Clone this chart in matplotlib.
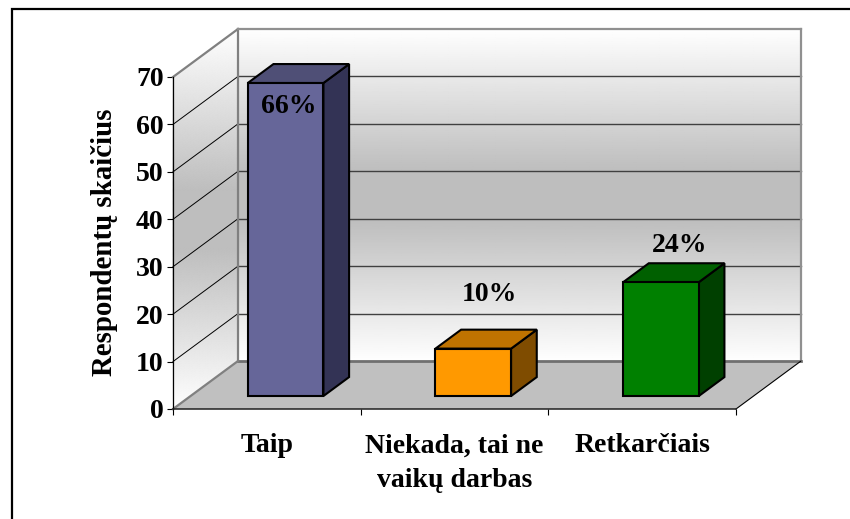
#3D bar chart drawn on a normal 2D axes, depth is a pixel offset
import matplotlib
matplotlib.use('Agg')
import matplotlib.pyplot as plt
from matplotlib.patches import Polygon
from matplotlib.transforms import IdentityTransform
from matplotlib.colors import LinearSegmentedColormap
import numpy as np

categories = ['Taip', 'Niekada, tai ne\nvaikų darbas', 'Retkarčiais']
values = [66, 10, 24]
percent_labels = ['66%', '10%', '24%']
yticks = [0, 10, 20, 30, 40, 50, 60, 70]

front_colors = ['#666699', '#FF9900', '#008000']
top_colors = ['#4F4F76', '#BF7300', '#006000']
side_colors = ['#333355', '#7F4C00', '#004000']
label_shift = [(3, -23), (16, 54), (19, 37)]

plt.rcParams['font.family'] = ['Liberation Serif', 'DejaVu Serif']
plt.rcParams['font.weight'] = 'bold'

W, H = 850, 519
DX, DY = 65, 48
FS = 20
fig = plt.figure(figsize=(W / 100, H / 100), dpi=100, facecolor='white')
ax = fig.add_axes([173 / W, (H - 409) / H, 563 / W, 332 / H])
ax.patch.set_alpha(0)
ax.set_xlim(0, 3)
ax.set_ylim(0, 70)
ax.autoscale(False)


def proj(x, v, d=0.0):
    px, py = ax.transData.transform((x, v))
    return (px + d * DX, py + d * DY)


def poly(points, **kw):
    p = Polygon(points, closed=True, transform=IdentityTransform(), clip_on=False, **kw)
    ax.add_patch(p)
    return p


def line(a, b, color, lw, z):
    ax.plot([a[0], b[0]], [a[1], b[1]], color=color, lw=lw, transform=IdentityTransform(),
            clip_on=False, zorder=z, solid_capstyle='projecting')


#gradient of the walls, it runs straight down the screen over each wall
cmap = LinearSegmentedColormap.from_list('wall', ['#FFFFFF', '#BEBEBE'])
rows = np.linspace(0, 70, 281)
steps = np.linspace(0, 1, 25)
walls = [((0, 0), (0, 1)), ((0, 1), (3, 1))]
for (x0, d0), (x1, d1) in walls:
    cols = [(x0 + s * (x1 - x0), d0 + s * (d1 - d0)) for s in steps]
    X = np.array([[proj(x, v, d)[0] for x, d in cols] for v in rows])
    Y = np.array([[proj(x, v, d)[1] for x, d in cols] for v in rows])
    mid = (Y.min() + Y.max()) / 2
    half = (Y.max() - Y.min()) / 2
    C = np.clip((1 - np.abs(Y - mid) / half) / 0.85, 0, 1)
    ax.pcolormesh(X, Y, C, cmap=cmap, vmin=0, vmax=1, shading='gouraud',
                  transform=IdentityTransform(), clip_on=False, zorder=1)

#gridlines on side and back wall
for v in yticks[1:-1]:
    line(proj(0, v, 0), proj(0, v, 1), '#000000', 0.7, 2)
    line(proj(0, v, 1), proj(3, v, 1), '#404040', 1.0, 2)

#floor
poly([proj(0, 0), proj(3, 0), proj(3, 0, 1), proj(0, 0, 1)], facecolor='#C0C0C0', edgecolor='none', zorder=3)

#wall frame
line(proj(0, 0, 1), proj(3, 0, 1), '#707070', 2.0, 4)
line(proj(0, 0, 0), proj(0, 0, 1), '#808080', 1.6, 4)
line(proj(0, 0, 1), proj(0, 70, 1), '#808080', 1.6, 4)
line(proj(0, 70, 0), proj(0, 70, 1), '#808080', 1.6, 4)
line(proj(0, 70, 1), proj(3, 70, 1), '#909090', 1.6, 4)
line(proj(3, 0, 1), proj(3, 70, 1), '#909090', 1.6, 4)
line(proj(3, 0, 0), proj(3, 0, 1), '#000000', 0.8, 4)

#bars
d0, d1 = 0.27, 0.665
for i, val in enumerate(values):
    x0, x1 = i + 0.305, i + 0.708
    edge = dict(edgecolor='black', linewidth=1.5, joinstyle='miter', zorder=5)
    poly([proj(x1, 0, d0), proj(x1, 0, d1), proj(x1, val, d1), proj(x1, val, d0)], facecolor=side_colors[i], **edge)
    poly([proj(x0, val, d0), proj(x1, val, d0), proj(x1, val, d1), proj(x0, val, d1)], facecolor=top_colors[i], **edge)
    poly([proj(x0, 0, d0), proj(x1, 0, d0), proj(x1, val, d0), proj(x0, val, d0)], facecolor=front_colors[i], **edge)
    cx, cy = proj((x0 + x1) / 2, val, d0)
    ax.text(cx + label_shift[i][0], cy + label_shift[i][1], percent_labels[i], transform=IdentityTransform(),
            ha='center', va='center', fontsize=FS, fontweight='bold', color='black', zorder=6, clip_on=False)

#axes
for s in ['top', 'right']:
    ax.spines[s].set_visible(False)
ax.spines['left'].set_linewidth(0.9)
ax.spines['bottom'].set_linewidth(1.1)
ax.spines['bottom'].set_color('#202020')
ax.spines['left'].set_zorder(6)
ax.spines['bottom'].set_zorder(6)
ax.set_yticks(yticks)
ax.set_yticklabels([str(t) for t in yticks], fontsize=FS, fontweight='bold')
ax.set_xticks([0, 1, 2, 3])
ax.set_xticklabels([])
ax.set_xticks([0.5, 1.5, 2.5], minor=True)
ax.set_xticklabels(categories, minor=True, fontsize=FS, fontweight='bold', linespacing=1.5)
ax.tick_params(axis='x', which='major', length=4.5, width=0.8, direction='out')
ax.tick_params(axis='x', which='minor', length=0, pad=17.5)
ax.tick_params(axis='y', length=4.5, width=0.8, direction='out', pad=2.3)
ax.set_ylabel('Respondentų skaičius', fontsize=20.8, fontweight='bold', va='center')
ax.yaxis.set_label_coords((105 - 173) / 563, (409 - 242) / 332)

#outer border, only top and left are in the picture
fig.add_artist(plt.Line2D([12 / W, 12 / W, 1], [0, (H - 9) / H, (H - 9) / H], color='black', lw=1.6,
                          transform=fig.transFigure, solid_joinstyle='miter'))

fig.savefig('out.png', dpi=100, facecolor='white')
